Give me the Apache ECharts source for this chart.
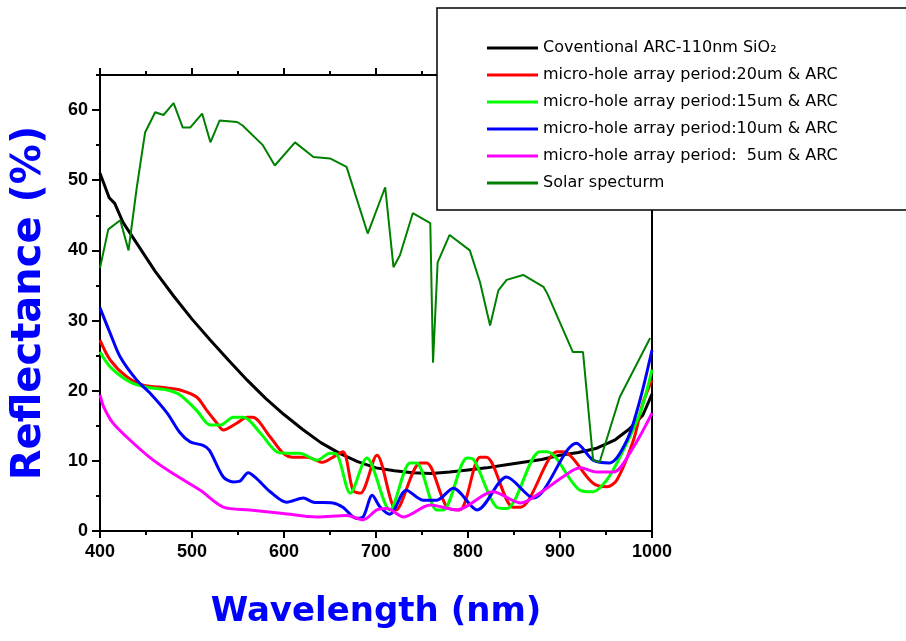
<!DOCTYPE html>
<html>
<head>
<meta charset="utf-8">
<script src="https://cdn.jsdelivr.net/npm/echarts@6/dist/echarts.min.js"></script>
<style>
  html, body { margin: 0; padding: 0; background: #fff; }
  #chart { width: 906px; height: 641px; }
</style>
</head>
<body>
<div id="chart"></div>
<script>
// wavelength (nm) and reflectance (%)
const arcNm = [400, 410, 416, 425, 440, 460, 480, 500, 520, 540, 560, 580, 600, 620, 640, 660, 680, 700, 720, 740, 760, 780, 800, 820, 840, 860, 880, 900, 920, 940, 960, 975, 990, 1000];
const arcVal = [51, 47.5, 46.7, 44, 41, 37, 33.5, 30.2, 27.2, 24.3, 21.5, 18.9, 16.6, 14.5, 12.6, 11.1, 9.9, 9.0, 8.6, 8.3, 8.2, 8.4, 8.7, 9.0, 9.4, 9.8, 10.2, 10.8, 11.2, 11.8, 13.0, 14.5, 16.5, 19.5];

const p20Nm = [400, 411, 429, 447, 473, 487, 505, 516, 527, 534, 549, 560, 566, 585, 599, 610, 625, 642, 653, 664, 675, 683, 701, 722, 748, 755, 777, 791, 813, 820, 849, 857, 897, 903, 936, 951, 962, 980, 990, 1000];
const p20Val = [27.2, 24.4, 22, 20.8, 20.4, 20.1, 19.1, 17.2, 15.4, 14.4, 15.4, 16.2, 16.2, 13.4, 11.1, 10.5, 10.5, 9.8, 10.5, 11.3, 5.8, 5.4, 10.8, 3.0, 9.7, 9.7, 3.4, 3.0, 10.5, 10.5, 3.4, 3.4, 11.3, 11.3, 6.8, 6.3, 7.3, 13, 18.2, 21.5];

const p15Nm = [400, 411, 433, 451, 473, 487, 505, 520, 531, 545, 556, 574, 592, 603, 617, 636, 650, 657, 672, 690, 715, 737, 744, 766, 773, 799, 806, 831, 842, 878, 886, 922, 936, 951, 965, 987, 1000];
const p15Val = [25.5, 23.4, 21.2, 20.5, 20.1, 19.4, 17.2, 15.1, 15.1, 16.2, 16.2, 14, 11.3, 11.1, 11.1, 10.1, 11.1, 11, 5.4, 10.4, 3.0, 9.7, 9.7, 3.0, 3.0, 10.4, 10.2, 3.4, 3.2, 11.3, 11.3, 5.8, 5.6, 7.3, 10.5, 16.8, 23];

const p10Nm = [400, 411, 422, 440, 454, 473, 487, 498, 512, 519, 534, 545, 552, 561, 570, 585, 603, 621, 632, 653, 664, 679, 686, 696, 704, 715, 733, 751, 766, 784, 810, 842, 871, 918, 936, 954, 973, 987, 1000];
const p10Val = [31.8, 28.2, 24.8, 21.5, 19.7, 16.8, 14, 12.7, 12.2, 11.5, 7.7, 7.0, 7.1, 8.3, 7.5, 5.6, 4.1, 4.7, 4.1, 4.0, 3.4, 1.8, 2.0, 5.1, 3.5, 2.4, 5.8, 4.4, 4.4, 6.1, 3.0, 7.7, 4.7, 12.5, 10.1, 9.7, 13, 18.7, 25.8];

const p5Nm = [400, 404, 414, 429, 454, 478, 509, 534, 563, 599, 636, 668, 686, 701, 712, 730, 759, 788, 827, 857, 878, 903, 922, 940, 958, 980, 1000];
const p5Val = [19.4, 17.7, 15.4, 13.4, 10.5, 8.3, 5.8, 3.4, 3.0, 2.5, 2.0, 2.2, 1.6, 3.0, 3.2, 2.0, 3.7, 3.0, 5.6, 4.0, 5.4, 7.7, 9.0, 8.4, 8.4, 12, 16.8];

const solarNm = [400, 409, 422, 431, 440, 449, 460, 469, 480, 490, 498, 511, 520, 530, 549, 555, 577, 590, 612, 632, 650, 668, 691, 710, 719, 726, 740, 759, 762, 767, 780, 802, 813, 824, 833, 842, 860, 882, 886, 914, 925, 936, 943, 965, 998];
const solarVal = [37.5, 43, 44.3, 40, 49, 56.8, 59.7, 59.3, 61, 57.5, 57.5, 59.5, 55.4, 58.5, 58.3, 57.8, 55, 52.1, 55.4, 53.3, 53.1, 51.9, 42.4, 49, 37.6, 39.3, 45.3, 43.9, 24, 38.3, 42.2, 40, 35.5, 29.3, 34.3, 35.8, 36.5, 34.8, 33.9, 25.5, 25.5, 10.1, 9.8, 19.1, 27.5];

const seriesNames = [
    'Coventional ARC-110nm SiO\u2082',
    'micro-hole array period:20um & ARC',
    'micro-hole array period:15um & ARC',
    'micro-hole array period:10um & ARC',
    'micro-hole array period:  5um & ARC',
    'Solar specturm'
];
const colors = ['#000000', '#ff0000', '#00ff00', '#0000ff', '#ff00ff', '#008000'];

const pairs = (xs, ys) => xs.map((x, i) => [x, ys[i]]);
const allData = [
    pairs(arcNm, arcVal),
    pairs(p20Nm, p20Val),
    pairs(p15Nm, p15Val),
    pairs(p10Nm, p10Val),
    pairs(p5Nm, p5Val),
    pairs(solarNm, solarVal)
];

const chart = echarts.init(document.getElementById('chart'));
const tickFont = { fontFamily: 'Liberation Sans', fontWeight: 'bold', fontSize: 18, color: '#000' };
const nameFont = { fontFamily: 'DejaVu Sans', fontWeight: 900, color: '#0000ff' };
const line = { show: true, onZero: false, lineStyle: { color: '#000', width: 2 } };
const tick = (len) => ({ show: true, inside: false, length: len, lineStyle: { color: '#000', width: 2 } });

const option = {
    animation: false,
    grid: { left: 100, right: 254, top: 75, bottom: 110 },
    xAxis: [
        {
            type: 'value', min: 400, max: 1000, interval: 100, position: 'bottom',
            name: 'Wavelength (nm)', nameLocation: 'middle', nameGap: 64,
            nameTextStyle: Object.assign({ fontSize: 34 }, nameFont),
            axisLine: line,
            axisTick: tick(7),
            minorTick: Object.assign({ splitNumber: 2 }, tick(4)),
            axisLabel: Object.assign({ margin: 12, formatter: (v) => String(v) }, tickFont),
            splitLine: { show: false }
        },
        {
            type: 'value', min: 400, max: 1000, interval: 100, position: 'top',
            axisLine: line,
            axisTick: tick(7),
            minorTick: Object.assign({ splitNumber: 2 }, tick(4)),
            axisLabel: { show: false },
            splitLine: { show: false }
        }
    ],
    yAxis: [
        {
            type: 'value', min: 0, max: 65, interval: 10, position: 'left',
            name: 'Reflectance (%)', nameLocation: 'middle', nameGap: 50, nameRotate: 90,
            nameTextStyle: Object.assign({ fontSize: 40 }, nameFont),
            axisLine: line,
            axisTick: tick(8),
            axisLabel: Object.assign({ margin: 12, showMaxLabel: false }, tickFont),
            splitLine: { show: false }
        },
        {
            type: 'value', min: 0, max: 65, interval: 5, position: 'left',
            axisLine: { show: false },
            axisTick: tick(4),
            axisLabel: { show: false },
            splitLine: { show: false }
        },
        {
            type: 'value', min: 0, max: 65, position: 'right',
            axisLine: line,
            axisTick: { show: false },
            axisLabel: { show: false },
            splitLine: { show: false }
        }
    ],
    graphic: [
        {
            type: 'rect', z: 50,
            shape: { x: 437, y: 8, width: 500, height: 202 },
            style: { fill: '#fff', stroke: '#000', lineWidth: 1.5 }
        }
    ],
    legend: {
        z: 60,
        orient: 'vertical',
        left: 482, top: 35,
        itemWidth: 51, itemHeight: 3, itemGap: 11,
        icon: 'rect',
        textStyle: { fontFamily: 'DejaVu Sans', fontSize: 16, color: '#000', lineHeight: 16 },
        data: seriesNames
    },
    series: allData.map((d, i) => ({
        name: seriesNames[i],
        type: 'line',
        data: d,
        showSymbol: false,
        smooth: i >= 1 && i <= 4 ? 0.3 : false,
        lineStyle: { color: colors[i], width: i === 5 ? 2 : 3 },
        itemStyle: { color: colors[i] },
        z: i === 5 ? 3 : 2
    }))
};
chart.setOption(option);
</script>
</body>
</html>
